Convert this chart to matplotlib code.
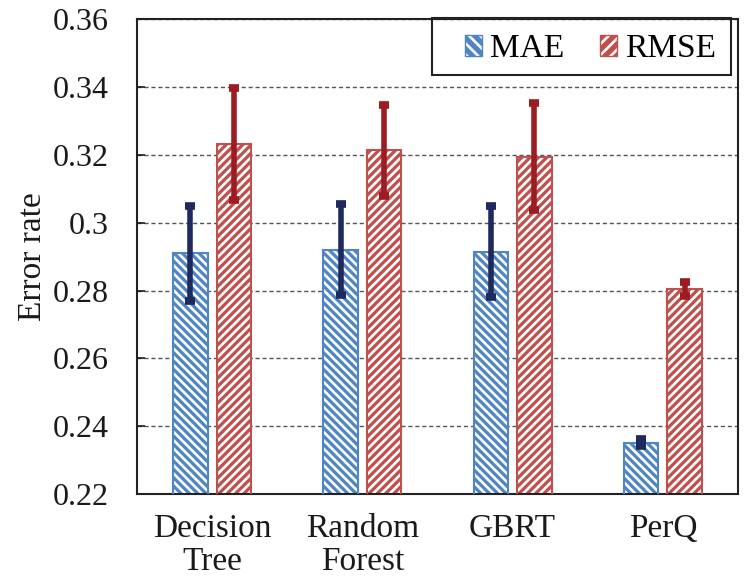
import matplotlib.pyplot as plt
import numpy as np
from matplotlib.patches import Rectangle

plt.rcParams["font.family"] = ["Liberation Serif", "DejaVu Serif"]
plt.rcParams["hatch.linewidth"] = 1.9

models = ["Decision\nTree", "Random\nForest", "GBRT", "PerQ"]
mae = [0.2910, 0.2921, 0.2915, 0.2352]
mae_err = [0.0140, 0.0133, 0.0135, 0.0010]
rmse = [0.3232, 0.3213, 0.3195, 0.2804]
rmse_err = [0.0165, 0.0133, 0.0158, 0.0020]

blue, blue_dark = "#4f85c5", "#1d2a5e"
red, red_dark = "#c0504d", "#9c1c22"
hatch_mae, hatch_rmse = "\\" * 4, "/" * 4

x = np.arange(len(models))
w = 0.23
off = 0.145

fig = plt.figure(figsize=(7.44, 5.8), dpi=100)
ax = fig.add_axes([0.184, 0.148, 0.808, 0.819])


def hatched_bars(pos, vals, color, hatch):
    # white stripes drawn as hatch on a solid fill, then the outline on top
    ax.bar(pos, vals, w, color=color, edgecolor="white",
           hatch=hatch, linewidth=0, zorder=2)
    ax.bar(pos, vals, w, fill=False, edgecolor=color, linewidth=1.5, zorder=3)


hatched_bars(x - off, mae, blue, hatch_mae)
hatched_bars(x + off, rmse, red, hatch_rmse)

ax.errorbar(x - off, mae, yerr=mae_err, fmt="none", ecolor=blue_dark,
            elinewidth=4, capsize=3.6, capthick=5.5, zorder=4)
ax.errorbar(x + off, rmse, yerr=rmse_err, fmt="none", ecolor=red_dark,
            elinewidth=4, capsize=3.6, capthick=5.5, zorder=4)

ax.set_ylim(0.22, 0.36)
ax.set_xlim(-0.5, 3.5)
ax.set_yticks(np.arange(0.22, 0.361, 0.02))
ax.set_yticklabels(["0.22", "0.24", "0.26", "0.28", "0.3", "0.32", "0.34", "0.36"])
ax.set_xticks(x)
ax.set_xticklabels(models)
ax.tick_params(axis="y", direction="in", length=6, width=1.2, pad=20,
               labelsize=23, colors="#1a1a1a")
ax.tick_params(axis="x", length=0, pad=14, labelsize=24, colors="#1a1a1a")
for lbl in ax.get_xticklabels():
    lbl.set_linespacing(1.12)

ax.yaxis.grid(True, linestyle=(0, (3, 2)), color="#555555", linewidth=1, zorder=0)
ax.set_axisbelow(True)
for s in ax.spines.values():
    s.set_linewidth(1.5)
    s.set_color("#222222")

ax.set_ylabel("Error rate", fontsize=24, color="#1a1a1a", labelpad=4)

h_mae = (Rectangle((0, 0), 1, 1, facecolor=blue, edgecolor="white",
                   hatch="\\\\\\", linewidth=0),
         Rectangle((0, 0), 1, 1, fill=False, edgecolor=blue, linewidth=1))
h_rmse = (Rectangle((0, 0), 1, 1, facecolor=red, edgecolor="white",
                    hatch="///", linewidth=0),
          Rectangle((0, 0), 1, 1, fill=False, edgecolor=red, linewidth=1))
ax.legend([h_mae, h_rmse], ["MAE", "RMSE"], loc="center",
          bbox_to_anchor=(0.7546, 0.937), ncol=2, fontsize=24, frameon=False,
          handlelength=0.52, handleheight=0.6, handletextpad=0.25,
          columnspacing=1.05, borderpad=0)
# legend box drawn separately so the entries can sit right of centre
ax.add_patch(Rectangle((0.491, 0.882), 0.497, 0.12, transform=ax.transAxes,
                       fill=False, edgecolor="#222222", linewidth=1.5,
                       clip_on=False, zorder=5))

fig.savefig("out.png", dpi=100)
